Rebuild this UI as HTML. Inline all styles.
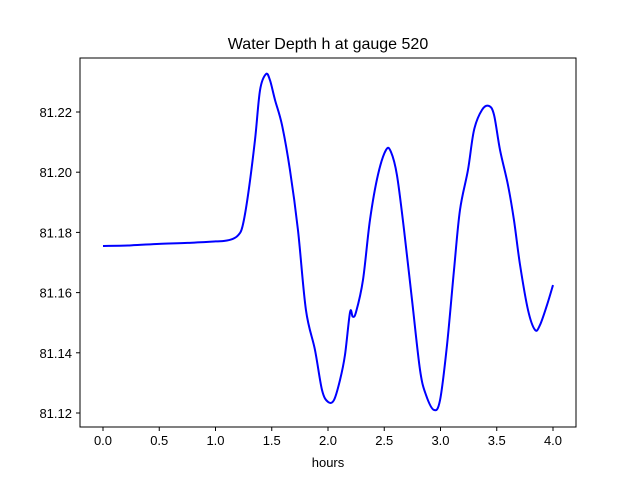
<!DOCTYPE html>
<html><head><meta charset="utf-8"><style>
body{margin:0;background:#fff;}
svg{display:block;font-family:"Liberation Sans","DejaVu Sans",sans-serif;}
</style></head><body>
<svg id="chart" width="640" height="480">
<rect x="0" y="0" width="640" height="480" fill="#fff"/>
<text x="328" y="49" text-anchor="middle" font-size="16">Water Depth h at gauge 520</text>
<g id="ticks"></g>
<path id="series" fill="none" stroke="#0000ff" stroke-width="2" stroke-linejoin="round"/>
<rect x="80" y="58" width="496" height="369" fill="none" stroke="#000" stroke-width="1"/>
<text x="328" y="467" text-anchor="middle" font-size="13">hours</text>
</svg>
<script>
const hours=[0,0.25,0.5,0.75,1.0,1.08,1.15,1.2,1.24,1.289,1.351,1.396,1.449,1.484,1.529,1.591,1.662,1.733,1.804,1.884,1.947,2.0,2.053,2.107,2.151,2.196,2.22,2.249,2.311,2.373,2.444,2.516,2.56,2.613,2.676,2.747,2.818,2.871,2.942,2.996,3.058,3.12,3.173,3.244,3.298,3.369,3.431,3.476,3.529,3.6,3.653,3.707,3.778,3.84,3.884,3.947,4.0];
const depth=[81.1755,81.1757,81.1762,81.1765,81.177,81.1772,81.1778,81.179,81.182,81.1924,81.2107,81.2273,81.2326,81.2306,81.224,81.2157,81.2007,81.1808,81.1542,81.141,81.1276,81.1237,81.1243,81.131,81.1393,81.1535,81.152,81.1535,81.1642,81.1841,81.1991,81.2074,81.2067,81.199,81.1808,81.1575,81.1343,81.126,81.121,81.1243,81.1426,81.1675,81.1874,81.2007,81.214,81.2207,81.222,81.219,81.2074,81.1957,81.1841,81.1692,81.1542,81.1476,81.1492,81.1559,81.1625];
const xTicks=[0,0.5,1,1.5,2,2.5,3,3.5,4];
const xTickLabels=["0.0","0.5","1.0","1.5","2.0","2.5","3.0","3.5","4.0"];
const yTicks=[81.12,81.14,81.16,81.18,81.20,81.22];
const yTickLabels=["81.12","81.14","81.16","81.18","81.20","81.22"];
const xs=h=>103+h*112.5;
const ys=v=>413-(v-81.12)/0.1*301;
const NS="http://www.w3.org/2000/svg";
const g=document.getElementById('ticks');
xTicks.forEach((t,i)=>{
  const l=document.createElementNS(NS,'line');
  
  
  l.setAttribute('x1',xs(t));l.setAttribute('x2',xs(t));l.setAttribute('y1',427);l.setAttribute('y2',431);l.setAttribute('stroke','#000');
  g.appendChild(l);
  const tx=document.createElementNS(NS,'text');
  
  
  tx.setAttribute('x',xs(t));tx.setAttribute('y',445);tx.setAttribute('text-anchor','middle');tx.setAttribute('font-size','13');
  tx.textContent=xTickLabels[i];g.appendChild(tx);
});
yTicks.forEach((t,i)=>{
  const l=document.createElementNS(NS,'line');
  
  
  l.setAttribute('x1',76);l.setAttribute('x2',80);l.setAttribute('y1',ys(t));l.setAttribute('y2',ys(t));l.setAttribute('stroke','#000');
  g.appendChild(l);
  const tx=document.createElementNS(NS,'text');
  
  
  tx.setAttribute('x',72);tx.setAttribute('y',ys(t)+5);tx.setAttribute('text-anchor','end');tx.setAttribute('font-size','13');
  tx.textContent=yTickLabels[i];g.appendChild(tx);
});
const P=hours.map((h,i)=>[xs(h),ys(depth[i])]);
let d='M'+P[0][0]+','+P[0][1];
for(let i=0;i<P.length-1;i++){
  const p0=P[Math.max(0,i-1)],p1=P[i],p2=P[i+1],p3=P[Math.min(P.length-1,i+2)];
  const c1=[p1[0]+(p2[0]-p0[0])/6,p1[1]+(p2[1]-p0[1])/6];
  const c2=[p2[0]-(p3[0]-p1[0])/6,p2[1]-(p3[1]-p1[1])/6];
  d+=' C'+c1[0]+','+c1[1]+' '+c2[0]+','+c2[1]+' '+p2[0]+','+p2[1];
}
document.getElementById('series').setAttribute('d',d);
</script>
</body></html>
